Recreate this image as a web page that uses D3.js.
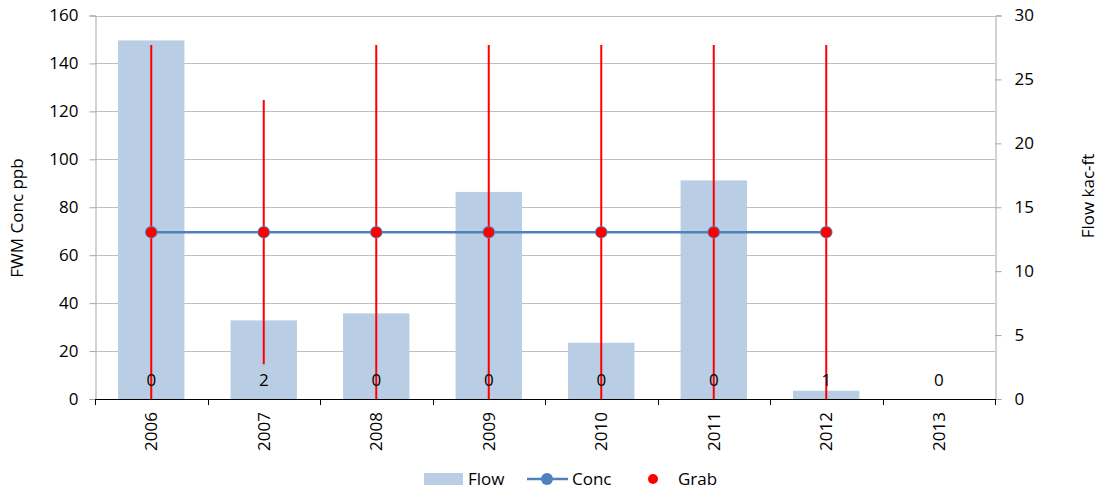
<!DOCTYPE html>
<html><head><meta charset="utf-8">
<script src="https://cdn.jsdelivr.net/npm/d3@7"></script>
<style>body{margin:0;background:#fff}svg{display:block}text{font-family:"Open Sans","Liberation Sans",sans-serif;fill:#000}</style>
</head><body>
<script>
const years = ["2006","2007","2008","2009","2010","2011","2012","2013"];
const flow = [28.05, 6.15, 6.7, 16.2, 4.4, 17.1, 0.65, 0];
const conc = [69.6, 69.6, 69.6, 69.6, 69.6, 69.6, 69.6, null];
const grabHigh = [147.7, 124.7, 147.7, 147.7, 147.7, 147.7, 147.7, null];
const grabLow = [0, 14.5, 0, 0, 0, 0, 0, null];
const counts = ["0","2","0","0","0","0","1","0"];
const leftTicks = [0,20,40,60,80,100,120,140,160];
const rightTicks = [0,5,10,15,20,25,30];

const W=1100,H=495;
const m={l:95,r:995,t:15.5,b:399};
const svg=d3.select("body").append("svg").attr("width",W).attr("height",H);
const x=d3.scaleBand().domain(years).range([m.l,m.r]).paddingInner(0.41).paddingOuter(0.205);
const xb=d3.scaleBand().domain(years).range([m.l,m.r]);
const yL=d3.scaleLinear().domain([0,160]).range([m.b,m.t]);
const yR=d3.scaleLinear().domain([0,30]).range([m.b,m.t]);
const fs=17;

// gridlines
svg.append("g").selectAll("line").data(leftTicks.slice(1)).join("line")
 .attr("x1",m.l).attr("x2",m.r).attr("y1",d=>Math.round(yL(d))+0.5).attr("y2",d=>Math.round(yL(d))+0.5)
 .attr("stroke","#BFBFBF").attr("stroke-width",1);

// left axis
const gL=svg.append("g").attr("transform",`translate(${m.l+0.5},0)`)
 .call(d3.axisLeft(yL).tickValues(leftTicks).tickSize(6).tickPadding(11));
gL.select(".domain").attr("stroke","#A6A6A6");
gL.selectAll(".tick line").attr("stroke","#A6A6A6");
gL.selectAll("text").style("font-size",fs+"px").attr("font-family",null);
// right axis
const gR=svg.append("g").attr("transform",`translate(${m.r+0.5},0)`)
 .call(d3.axisRight(yR).tickValues(rightTicks).tickSize(6).tickPadding(13));
gR.select(".domain").attr("stroke","#A6A6A6");
gR.selectAll(".tick line").attr("stroke","#A6A6A6");
gR.selectAll("text").style("font-size",fs+"px").attr("font-family",null);

// bars
svg.append("g").selectAll("rect").data(years).join("rect")
 .attr("x",d=>x(d)).attr("width",x.bandwidth())
 .attr("y",(d,i)=>yR(flow[i])).attr("height",(d,i)=>m.b-yR(flow[i]))
 .attr("fill","#B9CDE5");

// bottom axis
svg.append("line").attr("x1",m.l).attr("x2",m.r+1).attr("y1",m.b+0.5).attr("y2",m.b+0.5).attr("stroke","#000");
svg.append("g").selectAll("line").data(years.concat(["end"])).join("line")
 .attr("x1",(d,i)=>Math.round(m.l+i*xb.step())+0.5).attr("x2",(d,i)=>Math.round(m.l+i*xb.step())+0.5)
 .attr("y1",m.b).attr("y2",m.b+6).attr("stroke","#000");
svg.append("g").selectAll("text").data(years).join("text")
 .attr("transform",d=>`translate(${xb(d)+xb.bandwidth()/2+6},412) rotate(-90)`)
 .attr("text-anchor","end").style("font-size",fs+"px").text(d=>d);

// conc line
const cdat=years.map((d,i)=>({d,v:conc[i]})).filter(e=>e.v!=null);
svg.append("path").datum(cdat)
 .attr("d",d3.line().x(e=>xb(e.d)+xb.bandwidth()/2).y(e=>yL(e.v)))
 .attr("fill","none").attr("stroke","#4F81BD").attr("stroke-width",2.5);
// grab error bars
const gdat=years.map((d,i)=>({d,lo:grabLow[i],hi:grabHigh[i]})).filter(e=>e.hi!=null);
svg.append("g").selectAll("line").data(gdat).join("line")
 .attr("x1",e=>xb(e.d)+xb.bandwidth()/2).attr("x2",e=>xb(e.d)+xb.bandwidth()/2)
 .attr("y1",e=>yL(e.hi)).attr("y2",e=>yL(e.lo)).attr("stroke","#FF0000").attr("stroke-width",2);
// conc markers
svg.append("g").selectAll("circle").data(cdat).join("circle")
 .attr("cx",e=>xb(e.d)+xb.bandwidth()/2).attr("cy",e=>yL(e.v)).attr("r",6.2).attr("fill","#4F81BD");
// grab dots
svg.append("g").selectAll("circle").data(cdat).join("circle")
 .attr("cx",e=>xb(e.d)+xb.bandwidth()/2).attr("cy",e=>yL(e.v)).attr("r",5.3).attr("fill","#FF0000");

// count labels (on top)
svg.append("g").selectAll("text").data(years).join("text")
 .attr("x",d=>x(d)+x.bandwidth()/2).attr("y",386).attr("text-anchor","middle")
 .style("font-size",fs+"px").text((d,i)=>counts[i]);

// axis titles
svg.append("text").attr("transform","translate(23,218) rotate(-90)").attr("text-anchor","middle")
 .style("font-size",fs+"px").text("FWM Conc ppb");
svg.append("text").attr("transform","translate(1094,196) rotate(-90)").attr("text-anchor","middle")
 .style("font-size",fs+"px").text("Flow kac-ft");

// legend
const lg=svg.append("g");
lg.append("rect").attr("x",424).attr("y",473).attr("width",39).attr("height",12).attr("fill","#B9CDE5");
lg.append("text").attr("x",468).attr("y",485).style("font-size",fs+"px").text("Flow");
lg.append("line").attr("x1",527).attr("x2",568).attr("y1",479).attr("y2",479).attr("stroke","#4F81BD").attr("stroke-width",2.5);
lg.append("circle").attr("cx",547).attr("cy",479).attr("r",6).attr("fill","#4F81BD");
lg.append("text").attr("x",572).attr("y",485).style("font-size",fs+"px").text("Conc");
lg.append("circle").attr("cx",653).attr("cy",479).attr("r",5).attr("fill","#FF0000");
lg.append("text").attr("x",678).attr("y",485).style("font-size",fs+"px").text("Grab");
</script>
</body></html>
